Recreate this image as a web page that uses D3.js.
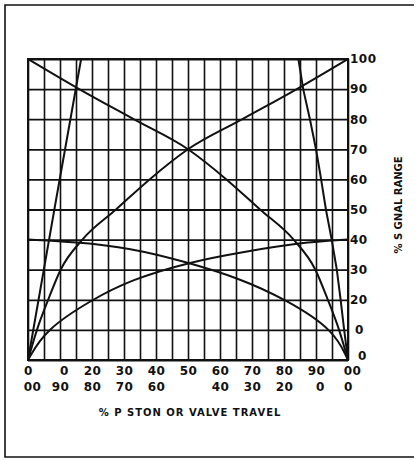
<!DOCTYPE html>
<html>
<head>
<meta charset="utf-8">
<script src="https://cdn.jsdelivr.net/npm/d3@7/dist/d3.min.js"></script>
<style>
  body { margin: 0; background: #fff; }
  svg text { font-family: 'DejaVu Sans', sans-serif; font-weight: bold; fill: #111; }
</style>
</head>
<body>
<script>
const w = 418
const h = 460
const x0 = 28, x1 = 348, y0 = 360, y1 = 59

// tick labels as printed (scan dropped the "1"s)
const travelTicks = [0, 10, 20, 30, 40, 50, 60, 70, 80, 90, 100]
const travelLabels = ['0', '0', '20', '30', '40', '50', '60', '70', '80', '90', '00']
const travelLabelsRev = ['00', '90', '80', '70', '60', '', '40', '30', '20', '0', '0']
const signalTicks = [0, 10, 20, 30, 40, 50, 60, 70, 80, 90, 100]
const signalLabels = ['0', '0', '20', '30', '40', '50', '60', '70', '80', '90', '100']

// curves: travel % read at signal %
const riseSteepTravel = [0, 8.4, 16.6]
const riseSteepSignal = [0, 51, 100]
const fallSteepTravel = [100, 98.8, 97.7, 96.5, 94.9, 93.1, 91.6, 90, 88.1, 86, 84.5]
const fallSteepSignal = [0, 10, 20, 30, 40, 50, 60, 70, 80, 90, 100]
const rise100Travel = [0, 2.8, 6.3, 10.2, 17, 27.5, 38, 50, 67, 84, 100]
const rise100Signal = [0, 10, 20, 30, 40, 50, 60, 70, 80, 90, 100]
const fall100Travel = [0, 16, 33, 50, 62, 72.5, 83, 89.8, 93.7, 97.2, 100]
const fall100Signal = [100, 90, 80, 70, 60, 50, 40, 30, 20, 10, 0]
const rise40Travel = [0, 5.3, 19.9, 32, 51, 68, 85, 100]
const rise40Signal = [0, 10, 20, 26.6, 32.7, 36, 39, 40]
const fall40Travel = [0, 15, 32, 49, 66, 80.8, 95.6, 100]
const fall40Signal = [40, 39.2, 37.2, 32.7, 27.2, 20, 10, 0]

const svg = d3.select('body').append('svg').attr('width', w).attr('height', h)

const x = d3.scaleLinear().domain([0, 100]).range([x0, x1])
const y = d3.scaleLinear().domain([0, 100]).range([y0, y1])

// outer frame (open on the right)
svg.append('path').attr('d', 'M414,5H5V457H414').attr('fill', 'none').attr('stroke', '#111').attr('stroke-width', 1.6)

// grid
svg.append('g').attr('transform', 'translate(0,' + y0 + ')')
  .call(d3.axisBottom(x).tickValues(d3.range(0, 101, 5)).tickSize(-(y0 - y1)).tickFormat(''))
  .call(g => g.select('.domain').remove())
  .selectAll('line').attr('stroke', '#111').attr('stroke-width', 1.6)
svg.append('g').attr('transform', 'translate(' + x0 + ',0)')
  .call(d3.axisLeft(y).tickValues(signalTicks).tickSize(-(x1 - x0)).tickFormat(''))
  .call(g => g.select('.domain').remove())
  .selectAll('line').attr('stroke', '#111').attr('stroke-width', 1.8)
svg.append('rect').attr('x', x0).attr('y', y1).attr('width', x1 - x0).attr('height', y0 - y1)
  .attr('fill', 'none').attr('stroke', '#111').attr('stroke-width', 2)

// curves
const lineX = d3.line().x(d => x(d[0])).y(d => y(d[1])).curve(d3.curveMonotoneX)
const lineB = d3.line().x(d => x(d[0])).y(d => y(d[1])).curve(d3.curveBasis)
const lineY = d3.line().x(d => x(d[0])).y(d => y(d[1])).curve(d3.curveLinear)
const curves = [
  [riseSteepTravel, riseSteepSignal, lineY],
  [fallSteepTravel, fallSteepSignal, lineY],
  [rise100Travel, rise100Signal, lineX],
  [fall100Travel, fall100Signal, lineX],
  [rise40Travel, rise40Signal, lineB],
  [fall40Travel, fall40Signal, lineB]
]
svg.append('g').selectAll('path').data(curves).enter().append('path')
  .attr('d', c => c[2](c[0].map((t, i) => [t, c[1][i]])))
  .attr('fill', 'none').attr('stroke', '#111').attr('stroke-width', 2)

// labels that lost their "1" sit a bit to the right
const lost = (label, value) => label !== '' && label !== String(value)

// x labels, two rows
const row1 = svg.append('g').attr('transform', 'translate(0,' + y0 + ')')
  .call(d3.axisBottom(x).tickValues(travelTicks).tickSize(0).tickPadding(6).tickFormat((d, i) => travelLabels[i]))
const row2 = svg.append('g').attr('transform', 'translate(0,' + (y0 + 16) + ')')
  .call(d3.axisBottom(x).tickValues(travelTicks).tickSize(0).tickPadding(6).tickFormat((d, i) => travelLabelsRev[i]))
;[[row1, travelLabels, d => d], [row2, travelLabelsRev, d => 100 - d]].forEach(([g, labels, val]) => {
  g.select('.domain').remove()
  g.attr('font-family', null).attr('font-size', null)
  g.selectAll('text').style('font-size', '12px').style('letter-spacing', '0.5px')
    .attr('dx', (d, i) => lost(labels[i], val(d)) ? 4 : 0)
})

// y labels
const yl = svg.append('g').attr('transform', 'translate(' + x1 + ',0)')
  .call(d3.axisRight(y).tickValues(signalTicks).tickSize(0).tickPadding(2).tickFormat((d, i) => signalLabels[i]))
yl.select('.domain').remove()
yl.attr('font-family', null).attr('font-size', null)
yl.selectAll('text').style('font-size', '12px').style('letter-spacing', '0.5px')
  .attr('dx', (d, i) => lost(signalLabels[i], d) ? 5 : 0)
yl.selectAll('text').filter(d => d === 0).attr('dx', 8).attr('y', -4)

// titles
svg.append('text').text('% P STON OR VALVE TRAVEL')
  .attr('x', 190).attr('y', 416).attr('text-anchor', 'middle')
  .style('font-size', '10px').style('letter-spacing', '1px')
svg.append('text').text('% S GNAL RANGE')
  .attr('text-anchor', 'middle')
  .attr('transform', 'translate(402,205) rotate(-90)')
  .style('font-size', '10px').style('letter-spacing', '0px')
</script>
</body>
</html>
